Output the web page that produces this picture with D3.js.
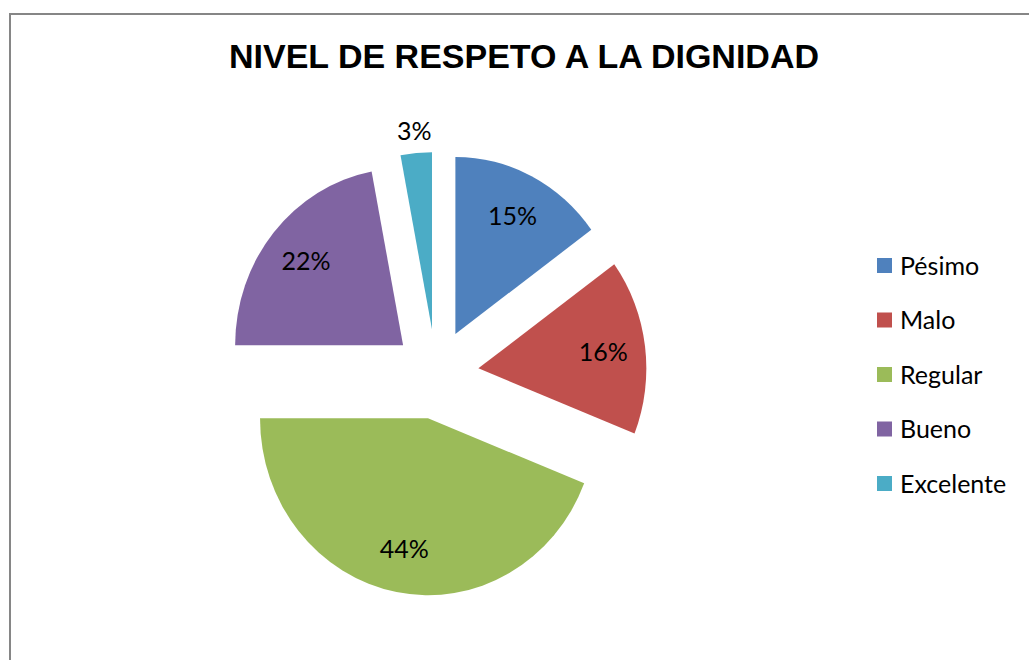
<!DOCTYPE html>
<html>
<head>
<meta charset="utf-8">
<script src="https://cdn.jsdelivr.net/npm/d3@7"></script>
<style>
  body { margin: 0; background: #fff; }
  text { font-family: Lato, "Open Sans", sans-serif; }
</style>
</head>
<body>
<div id="chart"></div>
<script>
var width = 1029, height = 660;
var title = "NIVEL DE RESPETO A LA DIGNIDAD";
var categories = ["Pésimo", "Malo", "Regular", "Bueno", "Excelente"];
var values = [15, 16, 44, 22, 3];
var colors = ["#4F81BD", "#C0504D", "#9BBB59", "#8064A2", "#4BACC6"];

var cx = 436, cy = 374, r = 177, sx = 0.949, explode = 45;

var svg = d3.select("#chart").append("svg")
  .attr("width", width)
  .attr("height", height);

// chart frame
svg.append("rect")
  .attr("x", 10).attr("y", 14)
  .attr("width", 1100).attr("height", 700)
  .attr("fill", "#fff")
  .attr("stroke", "#868686")
  .attr("stroke-width", 2);

svg.append("text")
  .attr("x", 524).attr("y", 68)
  .attr("text-anchor", "middle")
  .style("font-family", "'Liberation Sans', Arial, sans-serif")
  .style("font-weight", "bold")
  .style("font-size", "34px")
  .attr("fill", "#000")
  .text(title);

var pie = d3.pie().sort(null).value(function(d){ return d; });
var arcs = pie(values);
var arc = d3.arc().innerRadius(0).outerRadius(r);

function mid(d){ return (d.startAngle + d.endAngle) / 2; }

var g = svg.append("g")
  .attr("transform", "translate(" + cx + "," + cy + ") scale(" + sx + ",1)");

g.selectAll("path")
  .data(arcs)
  .join("path")
  .attr("d", arc)
  .attr("fill", function(d, i){ return colors[i]; })
  .attr("transform", function(d){
    var a = mid(d);
    return "translate(" + (explode * Math.sin(a)) + "," + (-explode * Math.cos(a)) + ")";
  });

svg.selectAll(".lab")
  .data(arcs)
  .join("text")
  .attr("class", "lab")
  .attr("text-anchor", "middle")
  .attr("dy", "0.36em")
  .style("font-size", "25px")
  .attr("fill", "#000")
  .attr("x", function(d){
    var a = mid(d), lr = d.data < 5 ? 1.124 * r : 0.75 * r;
    return cx + sx * (explode + lr) * Math.sin(a);
  })
  .attr("y", function(d){
    var a = mid(d), lr = d.data < 5 ? 1.124 * r : 0.75 * r;
    return cy - (explode + lr) * Math.cos(a);
  })
  .text(function(d){ return d.data + "%"; });

var legend = svg.append("g").attr("transform", "translate(877,258)");
var item = legend.selectAll("g")
  .data(categories)
  .join("g")
  .attr("transform", function(d, i){ return "translate(0," + (i * 54.5) + ")"; });
item.append("rect")
  .attr("width", 15).attr("height", 15)
  .attr("fill", function(d, i){ return colors[i]; });
item.append("text")
  .attr("x", 23).attr("y", 7.5)
  .attr("dy", "0.36em")
  .style("font-size", "25px")
  .attr("fill", "#000")
  .text(function(d){ return d; });
</script>
</body>
</html>
